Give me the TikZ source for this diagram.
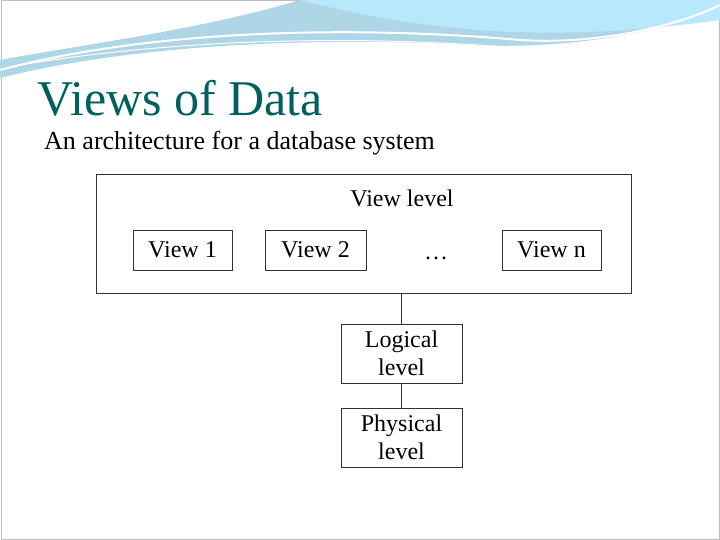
\documentclass[tikz,border=0pt]{standalone}
\usepackage{fontspec}
\setmainfont{Liberation Serif}
\begin{document}
\begin{tikzpicture}[x=1pt,y=-1pt,
  box/.style={draw=black!80,line width=0.8pt,align=center,inner sep=0pt,font=\fontsize{24}{28}\selectfont},
  conn/.style={draw=black!80,line width=0.8pt}]
\useasboundingbox (0,0) rectangle (720,540);
\fill[white] (0,0) rectangle (720,540);
\draw[black!25,line width=1pt] (1,1) rectangle (719,539);
% top wave
\fill[cyan!45!teal!35] (0,78) .. controls (150,40) and (350,38) .. (470,45) .. controls (580,50) and (660,30) .. (720,10) -- (720,0) -- (300,0) .. controls (200,30) and (80,45) .. (0,60) -- cycle;
\fill[cyan!40!white!70] (300,0) .. controls (420,30) and (540,45) .. (720,20) -- (720,0) -- cycle;
\draw[white,line width=2pt] (0,70) .. controls (150,30) and (350,25) .. (520,40) .. controls (600,45) and (680,25) .. (720,5);
\draw[white,line width=1pt] (20,65) .. controls (200,35) and (400,35) .. (560,52);
% title
\node[anchor=base west,inner sep=0pt,text=teal!75!black,font=\fontsize{50}{56}\selectfont] (title) at (37,116) {Views of Data};
\node[anchor=base west,inner sep=0pt,font=\fontsize{26}{30}\selectfont] (sub) at (44,150) {An architecture for a database system};
% diagram
\node[box,minimum width=535pt,minimum height=119pt] (vl) at (363.5,233.5) {};
\node[anchor=base,inner sep=0pt,font=\fontsize{24}{28}\selectfont] (vlt) at (402,207) {View level};
\node[box,minimum width=99pt,minimum height=40pt] (v1) at (182.5,250) {View 1};
\node[box,minimum width=101pt,minimum height=40pt] (v2) at (315.5,250) {View 2};
\node[inner sep=0pt,font=\fontsize{24}{28}\selectfont] (dots) at (436,258) {\dots};
\node[box,minimum width=99pt,minimum height=40pt] (vn) at (551.5,250) {View n};
\node[box,minimum width=121pt,minimum height=59pt,text depth=0pt] (log) at (401.5,353.5) {Logical\\level};
\node[box,minimum width=121pt,minimum height=59pt] (phy) at (401.5,437.5) {Physical\\level};
\draw[conn] (vl.south -| log.north) -- (log.north);
\draw[conn] (log.south) -- (phy.north);
\end{tikzpicture}
\end{document}
